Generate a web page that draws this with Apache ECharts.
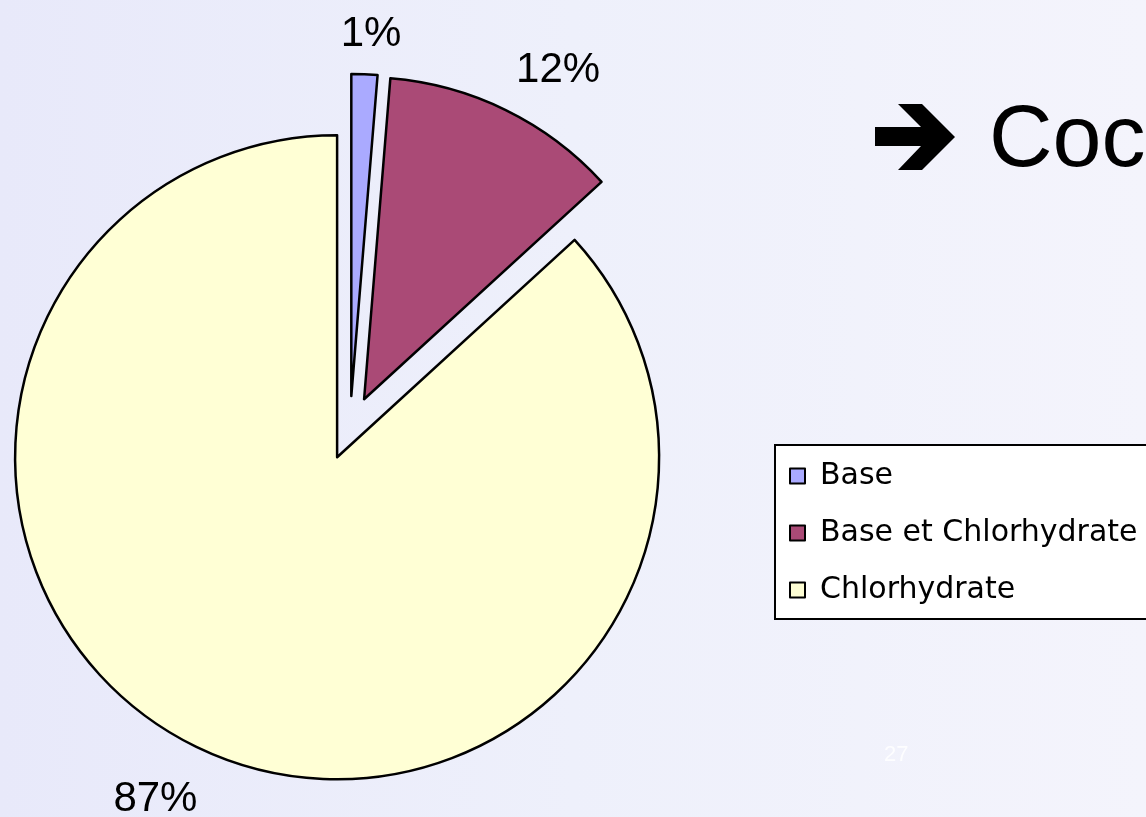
<!DOCTYPE html>
<html>
<head>
<meta charset="utf-8">
<script src="https://cdn.jsdelivr.net/npm/echarts@6/dist/echarts.min.js"></script>
<style>
  html, body { margin: 0; padding: 0; }
  body { background: linear-gradient(to right, #e8e9fa 0%, #eef0fb 50%, #f4f4fc 100%); }
  #main { width: 1146px; height: 817px; }
</style>
</head>
<body>
<div id="main"></div>
<script>
// données
var categories = ['Base', 'Base et Chlorhydrate', 'Chlorhydrate'];
var values = [1.3, 11.9, 86.8];
var colors = ['#aaaaff', '#aa4a76', '#ffffd5'];
// placement des étiquettes par part (length / length2)
var labelDist = [40, 44, 52];
var labelShift = [0, 28, 26];

var myChart = echarts.init(document.getElementById('main'));

var pieData = categories.map(function (name, i) {
  return {
    name: name,
    value: values[i],
    selected: true,
    itemStyle: { color: colors[i] },
    labelLine: { length: labelDist[i], length2: labelShift[i] }
  };
});

myChart.setOption({
  animation: false,
  backgroundColor: 'transparent',
  graphic: [
    {
      // flèche du titre de la diapo
      type: 'polygon',
      shape: {
        points: [[875, 127], [921, 127], [898, 104], [922, 104], [955, 137],
                 [922, 170], [898, 170], [921, 146], [875, 146]]
      },
      style: { fill: '#000' }
    },
    {
      type: 'text', left: 989, top: 98,
      style: { text: 'Coc', font: '88px "Liberation Sans"', fill: '#000' }
    },
    {
      type: 'text', left: 884, top: 744,
      style: { text: '27', font: '22px "Liberation Sans"', fill: 'rgba(255,255,255,0.85)' }
    }
  ],
  legend: {
    orient: 'vertical',
    left: 775,
    top: 445,
    data: categories,
    icon: 'rect',
    itemWidth: 15,
    itemHeight: 15,
    itemGap: 27,
    padding: [16, 60, 14, 14],
    backgroundColor: '#ffffff',
    borderColor: '#000000',
    borderWidth: 2,
    borderRadius: 0,
    textStyle: { fontFamily: 'DejaVu Sans', fontSize: 30, color: '#000', padding: [0, 0, 0, 10] },
    itemStyle: { borderColor: '#000', borderWidth: 2 }
  },
  series: [{
    name: 'Cocaïne',
    type: 'pie',
    center: [350, 428],
    radius: 322,
    startAngle: 90,
    clockwise: true,
    selectedMode: 'multiple',
    selectedOffset: 32,
    emphasis: { disabled: true },
    avoidLabelOverlap: false,
    itemStyle: { borderColor: '#000', borderWidth: 2.5 },
    label: {
      show: true,
      position: 'outside',
      formatter: function (p) { return Math.round(p.percent) + '%'; },
      fontFamily: 'Liberation Sans',
      fontSize: 42,
      color: '#000'
    },
    labelLine: { show: false },
    labelLayout: function () {
      return { align: 'center', verticalAlign: 'middle' };
    },
    data: pieData
  }]
});
</script>
</body>
</html>
